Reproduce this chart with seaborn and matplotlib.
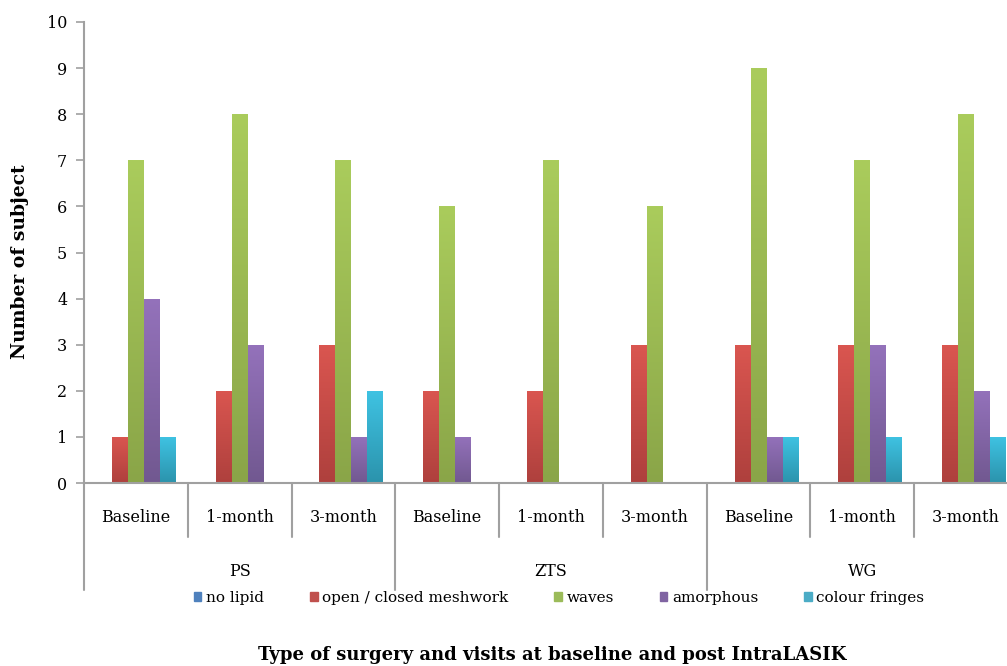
import numpy as np
import pandas as pd
import matplotlib
matplotlib.use("Agg")
import matplotlib.pyplot as plt
import matplotlib.transforms as mtransforms
from matplotlib.colors import LinearSegmentedColormap
from matplotlib.lines import Line2D
import seaborn as sns

surgeries = ["PS", "ZTS", "WG"]
visits = ["Baseline", "1-month", "3-month"]
series = ["no lipid", "open / closed meshwork", "waves", "amorphous", "colour fringes"]
no_lipid = [0, 0, 0, 0, 0, 0, 0, 0, 0]
meshwork = [1, 2, 3, 2, 2, 3, 3, 3, 3]
waves = [7, 8, 7, 6, 7, 6, 9, 7, 8]
amorphous = [4, 3, 1, 1, 0, 0, 1, 3, 2]
fringes = [1, 0, 2, 0, 0, 0, 1, 1, 1]

top_colors = ["#5B8FD0", "#DA5650", "#AACC5C", "#9472BB", "#3FC3E3"]
bottom_colors = ["#41699C", "#AE403D", "#8AA548", "#715890", "#2B93AC"]
mid_colors = ["#4F81BD", "#C0504D", "#9BBB59", "#8064A2", "#4BACC6"]

cats = [f"{s}|{v}" for s in surgeries for v in visits]
vals = [no_lipid, meshwork, waves, amorphous, fringes]
rows = []
for sname, sv in zip(series, vals):
    for c, v in zip(cats, sv):
        rows.append({"cat": c, "type": sname, "count": v})
df = pd.DataFrame(rows)

sns.set_style("white")
plt.rcParams["font.family"] = ["DejaVu Serif"]
plt.rcParams["text.color"] = "black"
plt.rcParams["axes.labelcolor"] = "black"
plt.rcParams["ytick.labelcolor"] = "black"

fig = plt.figure(figsize=(10.07, 6.66), dpi=100)
W, H = 1007, 666
ax = fig.add_axes([84 / W, 1 - 483 / H, (1018 - 84) / W, (483 - 22) / H])

sns.barplot(data=df, x="cat", y="count", hue="type", order=cats, hue_order=series,
            palette=mid_colors, width=0.77, saturation=1, ax=ax, legend=True,
            edgecolor="none", linewidth=0)

# gradient fill of each bar
npatch = len(cats)
for i, p in enumerate(ax.patches[: len(series) * npatch]):
    si = i // npatch
    h = p.get_height()
    if h <= 0:
        continue
    x0 = p.get_x()
    w = p.get_width()
    cmap = LinearSegmentedColormap.from_list("g", [bottom_colors[si], top_colors[si]])
    grad = np.linspace(0, 1, 256).reshape(-1, 1)
    im = ax.imshow(grad, cmap=cmap, origin="lower", aspect="auto",
                   extent=[x0, x0 + w, 0, h], zorder=p.get_zorder() + 0.1)
    im.set_clip_path(p)

ax.set_xlim(-0.5, len(cats) - 0.5)
ax.set_ylim(0, 10)
ax.set_yticks(range(0, 11))
ax.set_xticks([])
ax.tick_params(axis="y", length=6, width=1.2, color="#A0A0A0", labelcolor="black",
               labelsize=11.5, pad=6, left=True)
for side in ["top", "right"]:
    ax.spines[side].set_visible(False)
for side in ["left", "bottom"]:
    ax.spines[side].set_color("#A0A0A0")
    ax.spines[side].set_linewidth(1.5)
ax.set_xlabel("")
ax.set_ylabel("")

# multi-level category axis
trans = mtransforms.blended_transform_factory(ax.transData, ax.transAxes)
ax_h_px = 483 - 22
for k in range(len(cats) + 1):
    xpos = k - 0.5
    long = (k % 3 == 0)
    depth = (107 if long else 54) / ax_h_px
    ax.add_line(Line2D([xpos, xpos], [0, -depth], transform=trans, color="#A0A0A0",
                       lw=1.5, clip_on=False))
for k, c in enumerate(cats):
    s, v = c.split("|")
    ax.text(k, -34 / ax_h_px, v, transform=trans, ha="center", va="center",
            fontsize=11.5, color="black")
for j, s in enumerate(surgeries):
    ax.text(3 * j + 1, -88 / ax_h_px, s, transform=trans, ha="center", va="center",
            fontsize=11.5, color="black")

# legend
leg = ax.get_legend()
if leg is not None:
    leg.remove()
handles = [plt.Rectangle((0, 0), 1, 1, color=c) for c in mid_colors]
fig.legend(handles, series, loc="center", bbox_to_anchor=(559 / W, 1 - 598 / H),
           ncol=5, frameon=False, handlelength=0.5, handleheight=0.5,
           handletextpad=0.3, columnspacing=3.0, borderpad=0,
           prop={"family": "DejaVu Serif", "size": 11})

fig.text(20 / W, 1 - 262 / H, "Number of subject", rotation=90, ha="center", va="center",
         fontsize=13.5, fontweight="bold", color="black")
fig.text(552 / W, 1 - 655 / H, "Type of surgery and visits at baseline and post IntraLASIK",
         ha="center", va="center", fontsize=13, fontweight="bold", color="black")

fig.savefig("out.png", dpi=100)
